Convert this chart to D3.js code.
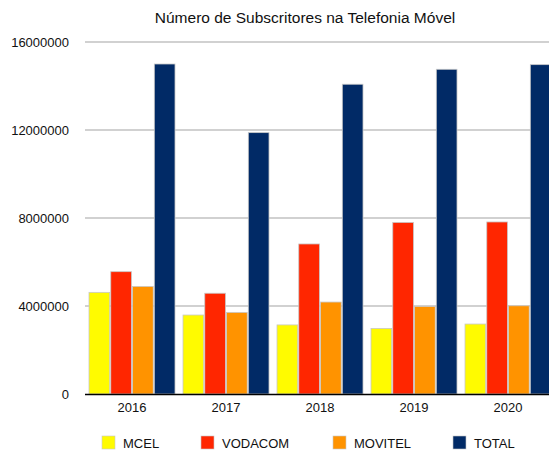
<!DOCTYPE html>
<html><head><meta charset="utf-8">
<script src="https://cdn.jsdelivr.net/npm/d3@7"></script>
<style>body{margin:0;background:#fff}svg{display:block;font-family:"Liberation Sans",Arial,sans-serif}</style>
</head><body><svg id="c" width="549" height="450"></svg>
<script>
const years = ["2016","2017","2018","2019","2020"];
const seriesNames = ["MCEL","VODACOM","MOVITEL","TOTAL"];
const mcel    = [4620000, 3590000, 3140000, 2980000, 3180000];
const vodacom = [5560000, 4580000, 6820000, 7800000, 7820000];
const movitel = [4890000, 3710000, 4180000, 3980000, 4010000];
const total   = [15000000, 11880000, 14080000, 14760000, 14970000];
const yTicks  = [0, 4000000, 8000000, 12000000, 16000000];
const colors  = ["#FFFB00", "#FF2600", "#FF9300", "#012A66"];
const title = "Número de Subscritores na Telefonia Móvel";

const values = [mcel, vodacom, movitel, total];
const svg = d3.select("#c");
const x0 = d3.scaleBand().domain(years).range([85, 555]).paddingInner(0.085).paddingOuter(0.0425);
const x1 = d3.scaleBand().domain(seriesNames).range([0, x0.bandwidth()]).paddingInner(0.05);
const y = d3.scaleLinear().domain([0, 16000000]).range([394, 42]);

svg.append("text").attr("x", 305).attr("y", 23).attr("text-anchor", "middle")
  .attr("font-size", 15.5).attr("fill", "#111").text(title);

// grid
const yAxis = d3.axisLeft(y).tickValues(yTicks).tickSize(0).tickPadding(16).tickFormat(d3.format("d"));
const gy = svg.append("g").attr("transform", "translate(85,0)").call(yAxis);
gy.select(".domain").remove();
gy.selectAll("text").attr("font-size", 13).attr("fill", "#111").attr("font-family", "Liberation Sans, Arial, sans-serif");
svg.append("g").selectAll("line").data(yTicks.filter(d => d > 0)).join("line")
  .attr("x1", 85).attr("x2", 549).attr("y1", d => y(d)).attr("y2", d => y(d))
  .attr("stroke", "#a3a3a3").attr("stroke-width", 1);

// bars
seriesNames.forEach((s, si) => {
  svg.append("g").selectAll("rect").data(years).join("rect")
    .attr("x", d => x0(d) + x1(s))
    .attr("width", x1.bandwidth())
    .attr("y", (d, i) => y(values[si][i]))
    .attr("height", (d, i) => y(0) - y(values[si][i]))
    .attr("fill", colors[si]).attr("stroke", "#c8c8c8").attr("stroke-width", 0.8);
});

// baseline + x axis
const xAxis = d3.axisBottom(x0).tickSize(0).tickPadding(9);
const gx = svg.append("g").attr("transform", "translate(0,394)").call(xAxis);
gx.select(".domain").remove();
gx.selectAll("text").attr("font-size", 13).attr("fill", "#111").attr("font-family", "Liberation Sans, Arial, sans-serif");
svg.append("line").attr("x1", 85).attr("x2", 549).attr("y1", 394.5).attr("y2", 394.5)
  .attr("stroke", "#000").attr("stroke-width", 1.5);

// legend
const legX = [102, 201, 333, 453];
const lg = svg.append("g").selectAll("g").data(seriesNames).join("g")
  .attr("transform", (d, i) => `translate(${legX[i]},436)`);
lg.append("rect").attr("width", 13).attr("height", 13).attr("fill", (d, i) => colors[i])
  .attr("stroke", "#c8c8c8").attr("stroke-width", 0.6);
lg.append("text").attr("x", 21).attr("y", 11.5).attr("font-size", 13).attr("fill", "#111").text(d => d);
</script></body></html>
